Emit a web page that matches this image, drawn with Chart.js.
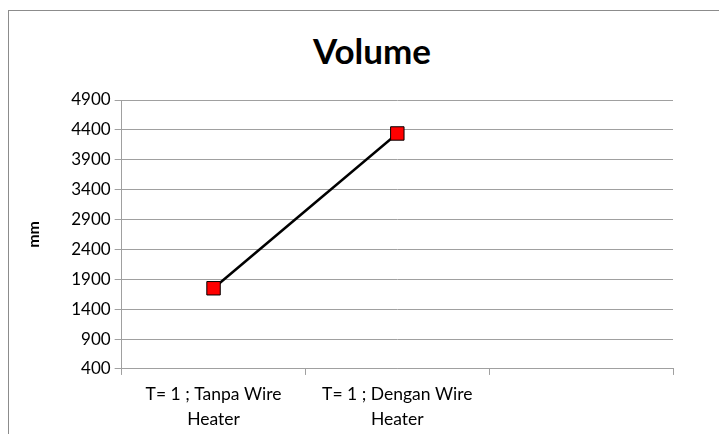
<!DOCTYPE html>
<html>
<head>
<meta charset="utf-8">
<script src="https://cdn.jsdelivr.net/npm/chart.js@4/dist/chart.umd.min.js"></script>
<style>
  html, body { margin: 0; padding: 0; background: #fff; }
  #wrap { position: relative; width: 719px; height: 434px; overflow: hidden; }
  #frame { position: absolute; left: 8px; top: 10px; width: 800px; height: 500px;
           border-left: 1px solid #8c8c8c; border-top: 1px solid #8c8c8c; }
  #titre { position: absolute; left: 172px; width: 400px; top: 29px; text-align: center;
           font: bold 35px Lato, 'Open Sans', sans-serif; line-height: 42px; color: #000; }
  #chart { position: absolute; left: 0; top: 0; }
</style>
</head>
<body>
<div id="wrap">
  <div id="frame"></div>
  <div id="titre">Volume</div>
  <canvas id="chart" width="719" height="434"></canvas>
</div>
<script>
// Données
const categories = [["T= 1 ; Tanpa Wire", "Heater"], ["T= 1 ; Dengan Wire", "Heater"], ""];
const volume = [1750, 4340, null];
const yMin = 400;
const yMax = 4900;
const yStep = 500;

const police = "Lato, 'Open Sans', sans-serif";

const ctx = document.getElementById("chart").getContext("2d");

new Chart(ctx, {
  type: "line",
  data: {
    labels: categories,
    datasets: [
      {
        data: volume,
        borderColor: "#000",
        borderWidth: 2.5,
        pointStyle: "rect",
        pointRadius: 9.5,
        pointBackgroundColor: "#ff0000",
        pointBorderColor: "#000",
        pointBorderWidth: 1,
        tension: 0,
      },
    ],
  },
  options: {
    responsive: false,
    animation: false,
    layout: { padding: { left: 20, right: 46, top: 100, bottom: -5 } },
    plugins: {
      legend: { display: false },
      tooltip: { enabled: false },
      title: { display: false },
    },
    scales: {
      x: {
        offset: true,
        grid: {
          offset: true,
          drawOnChartArea: false,
          drawTicks: true,
          tickLength: 6,
          color: "#a0a0a0",
        },
        border: { display: true, color: "#a0a0a0" },
        ticks: {
          color: "#000",
          font: { family: police, size: 17.5, lineHeight: 1.43 },
          maxRotation: 0,
          padding: 7,
        },
      },
      y: {
        min: yMin,
        max: yMax,
        grid: { color: "#a0a0a0", tickLength: 7 },
        border: { display: true, color: "#a0a0a0" },
        ticks: {
          stepSize: yStep,
          color: "#000",
          font: { family: police, size: 17 },
          padding: 4,
          callback: (v) => String(v),
        },
        title: {
          display: true,
          text: "mm",
          color: "#000",
          font: { family: police, size: 16, weight: "bold" },
          padding: { top: 4, bottom: 24 },
        },
      },
    },
  },
});
</script>
</body>
</html>
